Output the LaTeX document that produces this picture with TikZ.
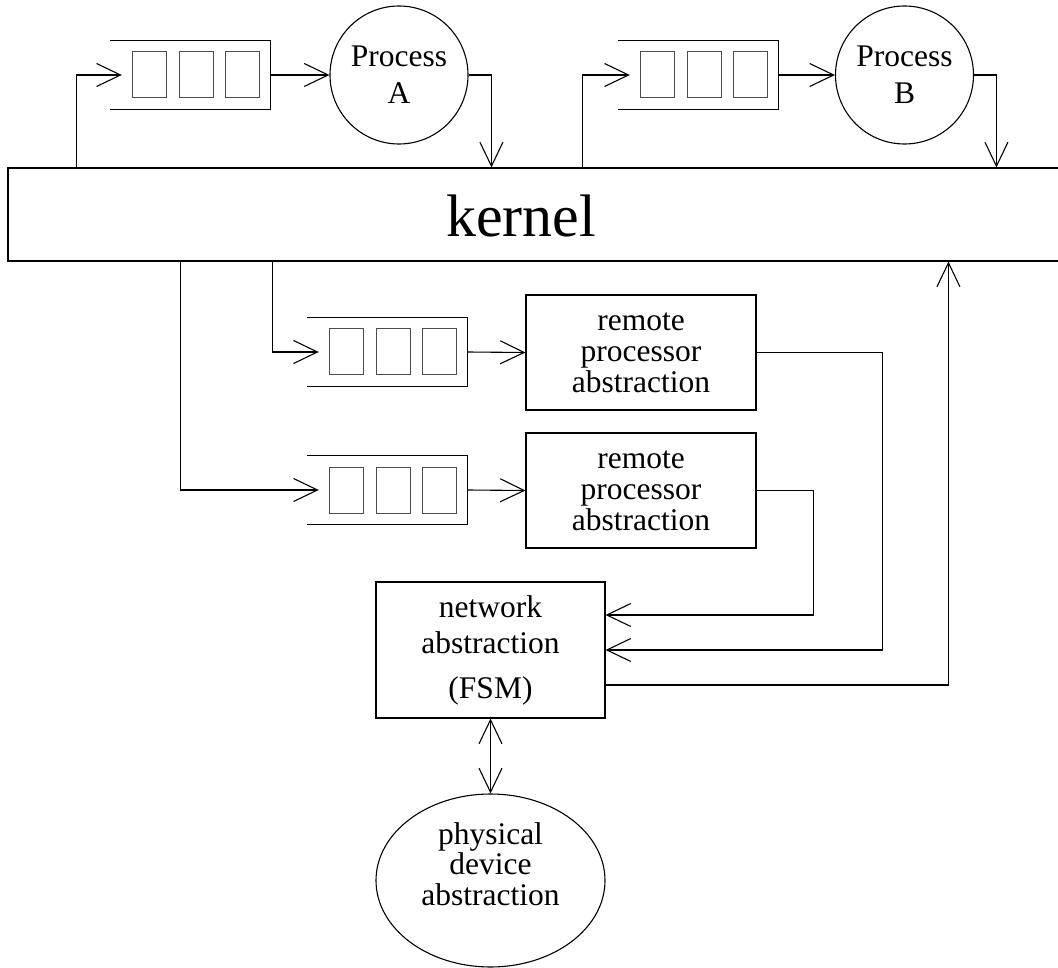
\documentclass[tikz,border=0pt]{standalone}
\usepackage{fontspec}
\setmainfont{Liberation Serif}
\usetikzlibrary{arrows.meta,shapes.geometric,calc}
\tikzset{
  ln/.style={line width=1.1pt},
  barb/.tip={Straight Barb[length=24pt,width=23pt,line width=1.1pt]},
  arr/.style={ln,-barb},
  darr/.style={ln,barb-barb},
  qnode/.style={minimum width=148pt,minimum height=68pt,inner sep=0pt},
  qcell/.style={draw=black!70,line width=1pt,minimum width=34pt,minimum height=46pt,inner sep=0pt},
  box/.style={draw,ln,inner sep=0pt,align=center,font=\fontsize{31.5}{31}\selectfont},
  proc/.style={circle,draw,ln,minimum size=138pt,inner sep=0pt,align=center,font=\fontsize{31.5}{37}\selectfont},
}
\newcommand\myqueue[3]{%
  \node[qnode] (#1) at (#2,#3) {};
  \draw[ln] ([xshift=-12pt]#1.north west) -- (#1.north east) -- (#1.south east) -- ([xshift=-12pt]#1.south west);
  \foreach \i/\dx in {1/28,2/75,3/121} \node[qcell] (#1-\i) at ([xshift=\dx pt]#1.west) {};
}
\begin{document}
\begin{tikzpicture}[x=1pt,y=-1pt]
\useasboundingbox (0,0) rectangle (1058,968);
% kernel
\node[draw,ln,minimum width=1062pt,minimum height=93pt,inner sep=0pt] (kernel) at (539,214.5) {};
\node[font=\fontsize{60}{64}\selectfont,inner sep=0pt] (klabel) at (521,216) {kernel};
% top queues and processes
\myqueue{qA}{196}{75}
\myqueue{qB}{704}{75}
\node[proc] (pA) at (399,75) {Process\\A};
\node[proc] (pB) at (904.5,75) {Process\\B};
\draw[arr] ([xshift=69pt]kernel.north west) |- (qA.west);
\draw[arr] (qA.east) -- (pA.west);
\draw[arr] (pA.east) -| ([xshift=484pt]kernel.north west);
\draw[arr] ([xshift=575pt]kernel.north west) |- (qB.west);
\draw[arr] (qB.east) -- (pB.west);
\draw[arr] (pB.east) -| ([xshift=989pt]kernel.north west);
% lower queues and remote processors
\myqueue{q1}{393}{352}
\myqueue{q2}{393}{490}
\node[box,minimum width=230pt,minimum height=115pt] (rp1) at (641,352.5) {remote\\processor\\abstraction};
\node[box,minimum width=230pt,minimum height=115pt] (rp2) at (641,490.5) {remote\\processor\\abstraction};
\draw[arr] ([xshift=265pt]kernel.south west) |- (q1.west);
\draw[arr] ([xshift=173pt]kernel.south west) |- (q2.west);
\draw[arr] (q1.east) -- (rp1.west);
\draw[arr] (q2.east) -- (rp2.west);
% network
\node[box,minimum width=229pt,minimum height=136pt,font=\fontsize{31.5}{36}\selectfont] (net) at (490.5,650) {network\\abstraction\\[9pt](FSM)};
\draw[arr] (rp2.east) -- ++(57,0) |- ([yshift=35pt]net.east);
\draw[arr] (rp1.east) -- ++(126,0) |- (net.east);
\draw[arr] ([yshift=-35pt]net.east) -| ([xshift=941pt]kernel.south west);
% physical device
\node[ellipse,draw,ln,minimum width=229pt,minimum height=173pt,inner sep=0pt] (phys) at (490.5,880.5) {};
\node[align=center,inner sep=0pt,font=\fontsize{31.5}{30.5}\selectfont] (physlabel) at (490.5,864) {physical\\device\\abstraction};
\draw[darr] (net.south) -- (phys.north);
\end{tikzpicture}
\end{document}
